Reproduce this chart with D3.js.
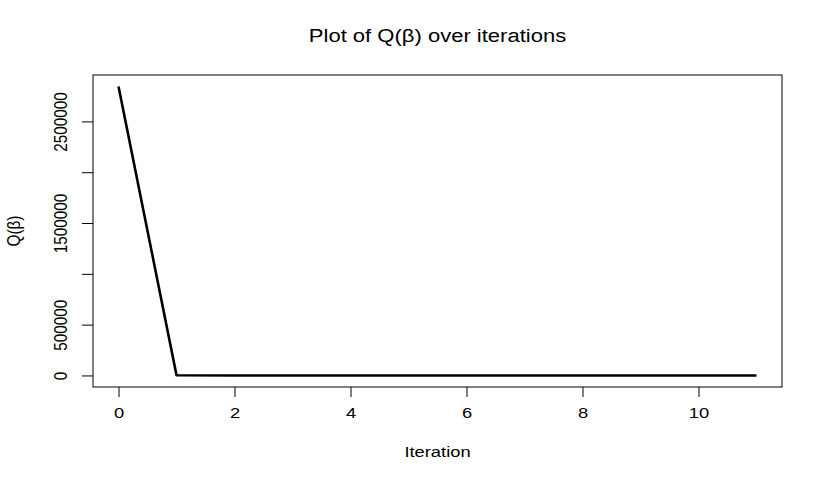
<!DOCTYPE html>
<html>
<head>
<meta charset="utf-8">
<script src="https://cdn.jsdelivr.net/npm/d3@7"></script>
<style>
  body { margin: 0; background: #fff; }
  text { font-family: "Liberation Sans", Arial, Helvetica, sans-serif; fill: #000; }
</style>
</head>
<body>
<div id="chart"></div>
<script>
// values
var iterations = [0, 1, 2, 3, 4, 5, 6, 7, 8, 9, 10, 11];
var qValues = [2843000, 1500, 40, 2, 0, 0, 0, 0, 0, 0, 0, 0];
var xTicks = [0, 2, 4, 6, 8, 10];
var yTicks = [0, 500000, 1000000, 1500000, 2000000, 2500000];
var yLabels = [0, 500000, 1500000, 2500000];

var W = 830, H = 482;
var box = {left: 93, right: 782, top: 75, bottom: 387};
var stretch = 1.2;   // the picture is wider than tall text-wise
var fs = 15.3;

var svg = d3.select("#chart").append("svg")
    .attr("width", W)
    .attr("height", H);

// R style 4% padding on both axes
var xMin = d3.min(iterations), xMax = d3.max(iterations);
var yMin = d3.min(qValues), yMax = d3.max(qValues);
var xPad = (xMax - xMin) * 0.04, yPad = (yMax - yMin) * 0.04;

var x = d3.scaleLinear()
    .domain([xMin - xPad, xMax + xPad])
    .range([box.left, box.right]);
var y = d3.scaleLinear()
    .domain([yMin - yPad, yMax + yPad])
    .range([box.bottom, box.top]);

// x axis
var xAxis = svg.append("g")
    .attr("transform", "translate(0," + box.bottom + ")")
    .call(d3.axisBottom(x).tickValues(xTicks).tickSize(10).tickPadding(10).tickFormat(d3.format("d")));
xAxis.select(".domain").remove();
xAxis.selectAll(".tick line").attr("stroke", "#000").attr("stroke-width", 1);
xAxis.selectAll(".tick text")
    .attr("font-size", fs)
    .attr("transform", "scale(" + stretch + ",1)");

// y axis
var yAxis = svg.append("g")
    .attr("transform", "translate(" + box.left + ",0)")
    .call(d3.axisLeft(y).tickValues(yTicks).tickSize(11)
        .tickFormat(function(d) { return yLabels.indexOf(d) >= 0 ? d3.format("d")(d) : ""; }));
yAxis.select(".domain").remove();
yAxis.selectAll(".tick line").attr("stroke", "#000").attr("stroke-width", 1);
yAxis.selectAll(".tick text")
    .attr("font-size", fs)
    .attr("x", 0).attr("y", 0).attr("dy", 0)
    .attr("text-anchor", "middle")
    .attr("transform", "translate(-26,0) scale(" + stretch + ",1) rotate(-90)");

// line
var line = d3.line()
    .x(function(d, i) { return x(iterations[i]); })
    .y(function(d) { return y(d); });

svg.append("path")
    .datum(qValues)
    .attr("fill", "none")
    .attr("stroke", "#000")
    .attr("stroke-width", 2.6)
    .attr("stroke-linejoin", "round")
    .attr("d", line);

// box
svg.append("rect")
    .attr("x", box.left)
    .attr("y", box.top)
    .attr("width", box.right - box.left)
    .attr("height", box.bottom - box.top)
    .attr("fill", "none")
    .attr("stroke", "#000")
    .attr("stroke-width", 1);

// title and axis titles
svg.append("text")
    .attr("text-anchor", "middle")
    .attr("font-size", fs * 1.2)
    .attr("transform", "translate(" + ((box.left + box.right) / 2) + ",42) scale(" + stretch + ",1)")
    .text("Plot of Q(β) over iterations");

svg.append("text")
    .attr("text-anchor", "middle")
    .attr("font-size", fs)
    .attr("transform", "translate(" + ((box.left + box.right) / 2) + ",457) scale(" + stretch + ",1)")
    .text("Iteration");

svg.append("text")
    .attr("text-anchor", "middle")
    .attr("font-size", fs)
    .attr("transform", "translate(20," + ((box.top + box.bottom) / 2) + ") scale(" + stretch + ",1) rotate(-90)")
    .text("Q(β)");
</script>
</body>
</html>
